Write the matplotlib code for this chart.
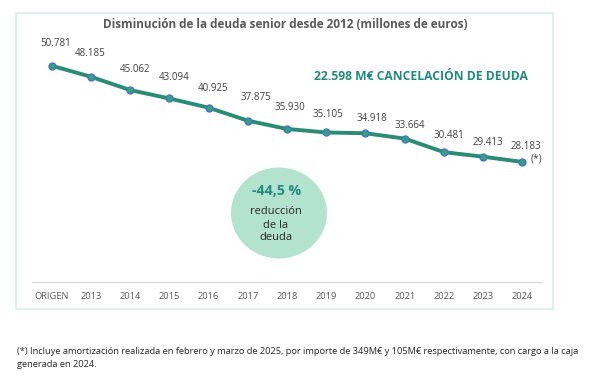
import matplotlib
matplotlib.use("Agg")
import matplotlib.pyplot as plt
from matplotlib.patches import Rectangle, Ellipse

categories = ["ORIGEN", "2013", "2014", "2015", "2016", "2017", "2018",
              "2019", "2020", "2021", "2022", "2023", "2024"]
deuda = [50781, 48185, 45062, 43094, 40925, 37875, 35930,
         35105, 34918, 33664, 30481, 29413, 28183]
labels = ["50.781", "48.185", "45.062", "43.094", "40.925", "37.875", "35.930",
          "35.105", "34.918", "33.664", "30.481", "29.413", "28.183"]

# label placement offsets in pixels (style, not data)
label_dx = [4, -1, 5, 5, 5, 8, 3, 2, 6, 5, 5, 5, 3]
label_dy = [22, 23, 21, 21, 19, 23, 21, 18, 15, 13, 17, 14, 15]

title = "Disminución de la deuda senior desde 2012 (millones de euros)"
cancel_text = "22.598 M€ CANCELACIÓN DE DEUDA"
pct_text = "-44,5 %"
circle_text = "reducción\nde la\ndeuda"
footnote = ("(*) Incluye amortización realizada en febrero y marzo de 2025, por importe de 349M€ y 105M€ respectivamente, con cargo a la caja\n"
            "generada en 2024.")

FONT = "Open Sans"
plt.rcParams["font.family"] = [FONT, "DejaVu Sans"]

W, H = 600, 378
fig = plt.figure(figsize=(W / 100, H / 100), dpi=100)

def fx(x):
    return x / W

def fy(y):
    return 1 - y / H

PX = 0.72  # points per pixel at dpi 100

# outer box
fig.patches.append(Rectangle((fx(16), fy(309)), (553 - 16) / W, (309 - 13) / H,
                             transform=fig.transFigure, fill=False,
                             edgecolor="#d6efe6", linewidth=1.2))

ax = fig.add_axes([fx(32), fy(282), (542 - 32) / W, (282 - 30) / H])
ax.set_facecolor("none")
x = list(range(len(categories)))
ax.plot(x, deuda, color="#2a8c72", linewidth=2.8, marker="o", markersize=5,
        markerfacecolor="#35a07c", markeredgecolor="#4a74c8", markeredgewidth=1.0,
        solid_capstyle="round", zorder=3)
ax.set_xlim(-0.5, len(categories) - 0.5)
ax.set_ylim(0, 59159)
ax.set_xticks(x)
ax.set_xticklabels(categories, fontsize=6.7, color="#595959")
ax.tick_params(axis="x", length=0, pad=7.5)
ax.set_yticks([])
for s in ["top", "right", "left"]:
    ax.spines[s].set_visible(False)
ax.spines["bottom"].set_color("#d9d9d9")
ax.spines["bottom"].set_linewidth(0.9)

for xi, v, lab, dx, dy in zip(x, deuda, labels, label_dx, label_dy):
    ax.annotate(lab, (xi, v), xytext=(dx * PX, dy * PX), textcoords="offset points",
                ha="center", va="center", fontsize=7.0, color="#404040")

ax.annotate("(*)", (x[-1], deuda[-1]), xytext=(14 * PX, 3 * PX), textcoords="offset points",
            ha="center", va="center", fontsize=7.4, color="#404040")

fig.text(fx(285), fy(25), title, ha="center", va="center", fontsize=8.5,
         fontweight="bold", color="#595959")
fig.text(fx(421), fy(76), cancel_text, ha="center", va="center", fontsize=8.7,
         fontweight="bold", color="#218a7c")

fig.patches.append(Ellipse((fx(279), fy(213)), 96 / W, 91 / H,
                           transform=fig.transFigure, facecolor="#b3e3cf",
                           edgecolor="none", zorder=1))
fig.text(fx(277), fy(191), pct_text, ha="center", va="center", fontsize=10.2,
         fontweight="bold", color="#218a7c")
fig.text(fx(276), fy(225), circle_text, ha="center", va="center", fontsize=8.0,
         color="#262626", linespacing=1.25)

fig.text(fx(17), fy(358), footnote, ha="left", va="center", fontsize=6.65,
         color="#262626", linespacing=1.5)

fig.savefig("out.png", dpi=100)
